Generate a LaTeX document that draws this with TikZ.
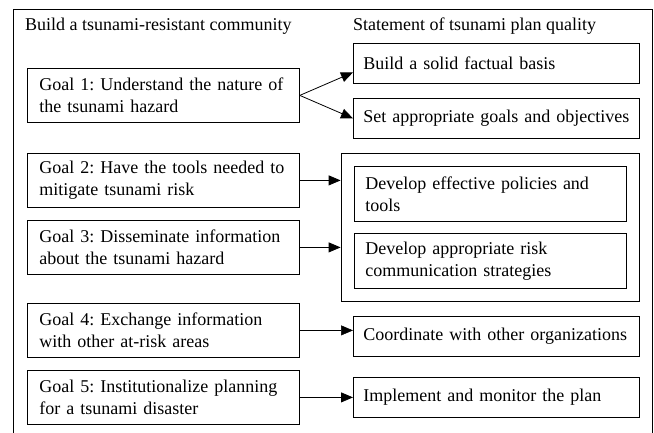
\documentclass[tikz,border=0pt]{standalone}
\usepackage{fontspec}
\setmainfont{Liberation Serif}
\usetikzlibrary{arrows.meta,fit}
\frenchspacing
\begin{document}
\begin{tikzpicture}
[x=1pt,y=-1pt,
every node/.style={font=\fontsize{18}{22}\selectfont},
head/.style={anchor=west,inner sep=0pt},
goalbox/.style={draw,line width=.8pt,anchor=north west,align=left,text width=248pt,inner xsep=12pt,inner ysep=0pt,minimum height=54pt},
planbox/.style={draw,line width=.8pt,anchor=north west,align=left,text width=266pt,inner xsep=10pt,inner ysep=0pt,minimum height=40pt},
devbox/.style={planbox,text width=250pt,inner xsep=11pt,minimum height=55pt},
link/.style={line width=.8pt,-{Triangle[length=12pt,width=10pt]}}]
\useasboundingbox (0,0) rectangle (654,433);
% outer frame, open at the bottom
\draw[line width=.8pt] (13,433) |- (652,9) -- (652,433);
\node[head] (lefthead) at (25,26) {Build a tsunami-resistant community};
\node[head] (righthead) at (353,26) {Statement of tsunami plan quality};
% goals
\node[goalbox] (g1) at (27,68) {Goal 1: Understand the nature of\\the tsunami hazard};
\node[goalbox] (g2) at (27,153) {Goal 2: Have the tools needed to\\mitigate tsunami risk};
\node[goalbox] (g3) at (27,220) {Goal 3: Disseminate information\\about the tsunami hazard};
\node[goalbox] (g4) at (27,303) {Goal 4: Exchange information\\with other at-risk areas};
\node[goalbox] (g5) at (27,370) {Goal 5: Institutionalize planning\\for a tsunami disaster};
% plan quality
\node[planbox] (basis) at (353,43) {Build a solid factual basis};
\node[planbox] (aims) at (353,98) {Set appropriate goals and objectives};
\node[devbox] (dev1) at (354,166) {Develop effective policies and\\tools};
\node[devbox] (dev2) at (354,233) {Develop appropriate risk\\communication strategies};
\node[draw,line width=.8pt,fit=(dev1)(dev2),inner sep=13pt] (grp) {};
\node[planbox] (coord) at (353,316) {Coordinate with other organizations};
\node[planbox] (impl) at (353,377) {Implement and monitor the plan};
% links
\draw[link] (g1.east) -- ([yshift=-9pt]basis.west);
\draw[link] (g1.east) -- (aims.west);
\draw[link] (g2.east) -- (g2.east -| grp.west);
\draw[link] (g3.east) -- (g3.east -| grp.west);
\draw[link,line width=.5pt] (g4.east) -- (g4.east -| coord.west);
\draw[link] (g5.east) -- (g5.east -| impl.west);
\end{tikzpicture}
\end{document}
